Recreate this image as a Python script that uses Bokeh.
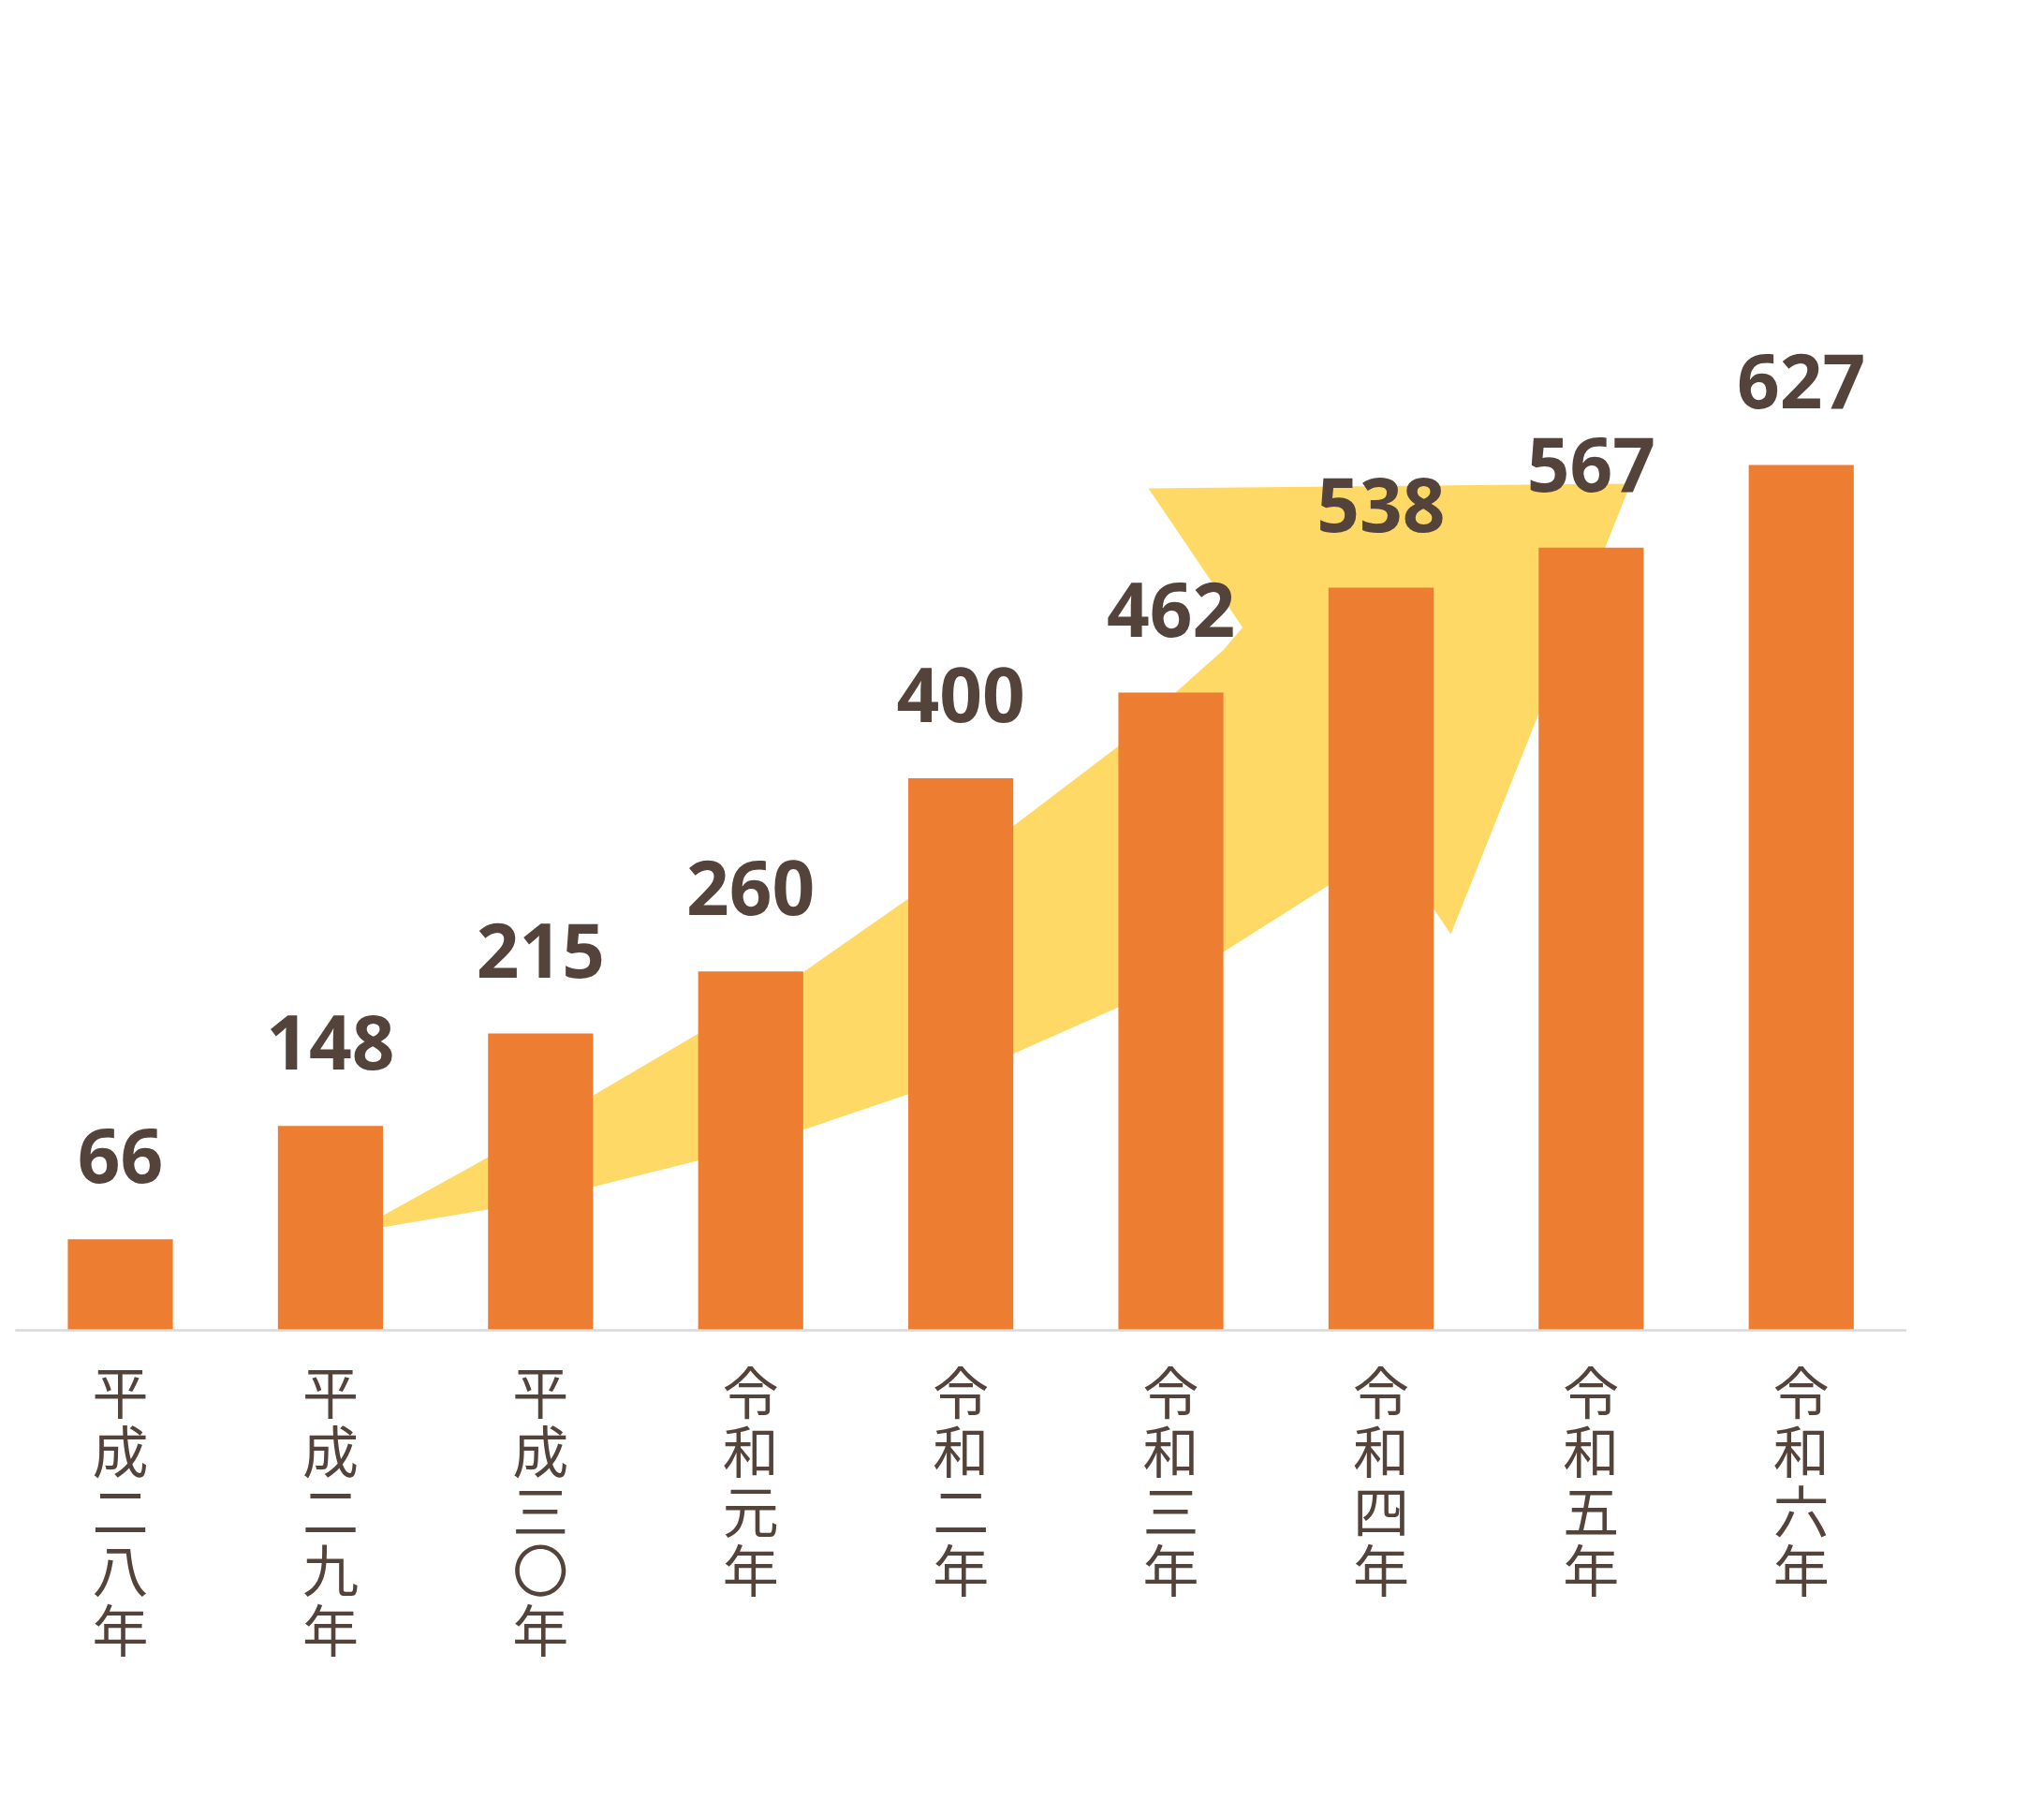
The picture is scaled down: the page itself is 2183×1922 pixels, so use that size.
from bokeh.plotting import figure
from bokeh.models import ColumnDataSource, Range1d
from bokeh.core.properties import value
from bokeh.embed import file_html
from bokeh.resources import INLINE

# ---- data ----
categories = ["平成二八年", "平成二九年", "平成三〇年", "令和元年", "令和二年",
              "令和三年", "令和四年", "令和五年", "令和六年"]
counts = [66, 148, 215, 260, 400, 462, 538, 567, 627]

# decorative curved arrow outline (x in category index units, y in value units)
arrow_x = [1.105, 1.247, 1.747, 2.250, 2.750, 3.249, 3.748, 4.247, 4.750, 5.000, 5.250, 5.341,
           4.893, 7.188, 6.332, 6.047, 5.749, 5.250, 4.750, 4.247, 3.748, 3.249, 2.750,
           2.250, 1.747, 1.247]
arrow_y = [71.3, 83.0, 125.1, 170.1, 214.9, 259.4, 312.4, 365.1, 423.2, 459.0, 493.0, 509.3,
           610.0, 613.4, 287.0, 351.5, 322.3, 274.1, 234.1, 200.2, 171.0, 145.2, 123.0,
           104.0, 87.5, 74.6]

# ---- layout ----
W, H = 2167, 1906
X0, X1 = -0.5705, 9.0863
Y0, Y1 = -329.8, 963.5
PX = H / (Y1 - Y0)  # pixels per value unit

BAR = "#ED7D31"
ARROW = "#FFD966"
TXT = "#53433A"
AXIS = "#D9D9D9"

p = figure(width=W, height=H, output_backend="svg", toolbar_location=None,
           x_range=Range1d(X0, X1), y_range=Range1d(Y0, Y1),
           x_axis_location=None, y_axis_location=None,
           min_border=0, min_border_left=0, min_border_right=0,
           min_border_top=0, min_border_bottom=0)
p.outline_line_color = None
p.grid.visible = False
p.background_fill_color = "white"
p.border_fill_color = "white"

idx = list(range(len(categories)))

# arrow
p.patch(arrow_x, arrow_y, fill_color=ARROW, line_color=None)

# bars
src = ColumnDataSource(dict(x=idx, top=counts,
                            lab=[str(v) for v in counts],
                            ly=[v + 89 / PX for v in counts]))
p.vbar(x="x", top="top", width=0.5, bottom=0, source=src,
       fill_color=BAR, line_color=None)

# baseline
p.line([-0.5, len(categories) - 0.5], [0, 0], line_color=AXIS, line_width=2.5)

# value labels
p.text(x="x", y="ly", text="lab", source=src,
       text_font=value("Open Sans"), text_font_style="bold",
       text_font_size="80px", text_color=TXT,
       text_align="center", text_baseline="alphabetic")

# vertical category labels
cx, cy, ch = [], [], []
for i, c in enumerate(categories):
    for k, chr_ in enumerate(c):
        cx.append(i)
        cy.append(-(63 + k * 63.5) / PX)
        ch.append(chr_)
csrc = ColumnDataSource(dict(x=cx, y=cy, t=ch))
p.text(x="x", y="y", text="t", source=csrc,
       text_font=value("Noto Sans CJK JP"), text_font_size="60px",
       text_color=TXT, text_align="center", text_baseline="middle")

open("out.html", "w").write(file_html(p, INLINE))
